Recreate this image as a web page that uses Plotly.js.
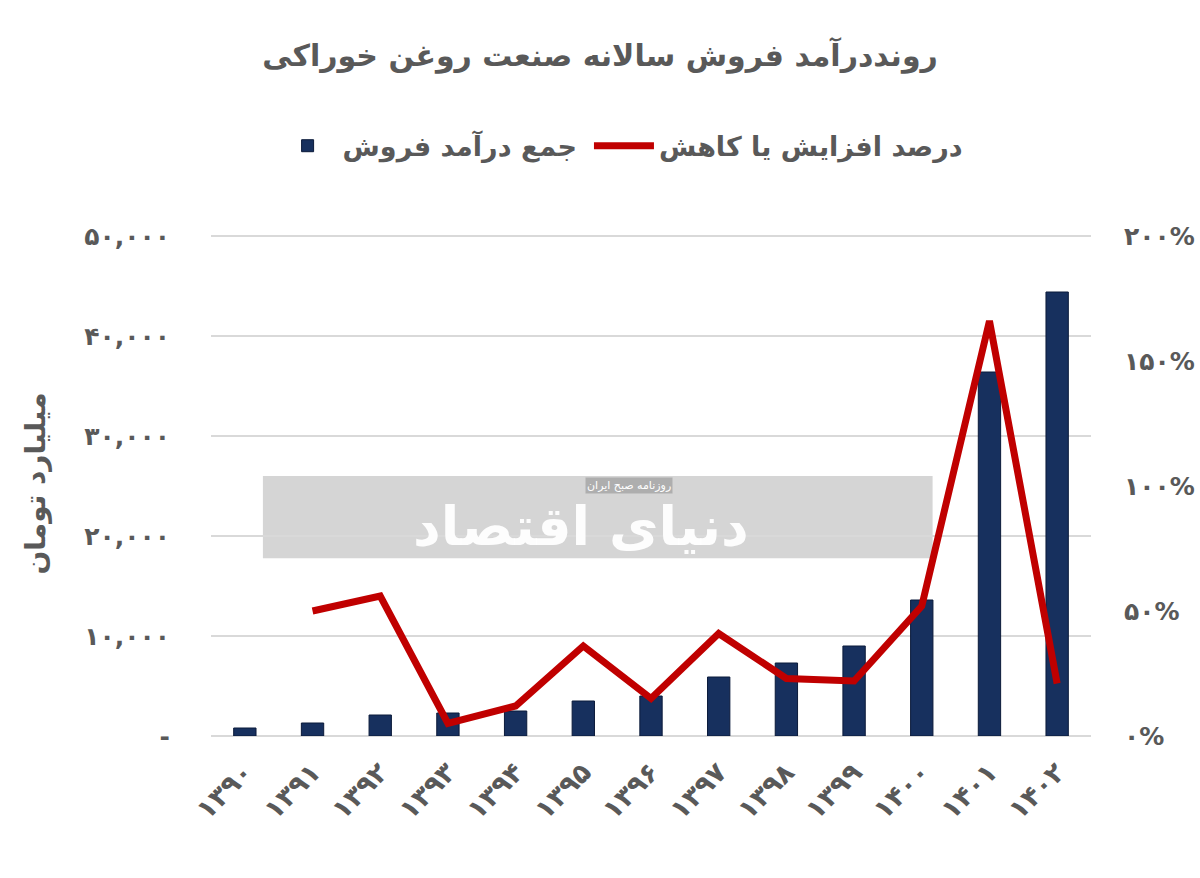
<!DOCTYPE html>
<html>
<head>
<meta charset="utf-8">
<script src="https://cdn.plot.ly/plotly-3.0.1.min.js"></script>
<style>html,body{margin:0;padding:0;background:#fff;}#chart{width:1200px;height:878px;}</style>
</head>
<body>
<div id="chart"></div>
<script>
// Data
const years = ["۱۳۹۰","۱۳۹۱","۱۳۹۲","۱۳۹۳","۱۳۹۴","۱۳۹۵","۱۳۹۶","۱۳۹۷","۱۳۹۸","۱۳۹۹","۱۴۰۰","۱۴۰۱","۱۴۰۲"];
const revenue = [800, 1300, 2100, 2300, 2500, 3500, 4000, 5900, 7300, 9000, 13600, 36400, 44400];
const growthPct = [null, 50, 56, 5, 12, 36, 15, 41, 23, 22, 52, 166, 21];
const leftTickVals = [0, 10000, 20000, 30000, 40000, 50000];
const leftTickText = ["-", "۱۰,۰۰۰", "۲۰,۰۰۰", "۳۰,۰۰۰", "۴۰,۰۰۰", "۵۰,۰۰۰"];
const rightTickVals = [0, 50, 100, 150, 200];
const rightTickText = ["۰%", "۵۰%", "۱۰۰%", "۱۵۰%", "۲۰۰%"];
const barName = "جمع درآمد فروش";
const lineName = "درصد افزایش یا کاهش";
const titleText = "رونددرآمد فروش سالانه صنعت روغن خوراکی";
const yTitleText = "میلیارد تومان";

const FONT = "DejaVu Sans, sans-serif";
const GRAY = "#595959";
const legendFont = {family: FONT, size: 27, color: GRAY, weight: "bold"};

const traces = [
  {
    type: "bar", x: years, y: revenue, name: barName,
    marker: {color: "#17305e", line: {color: "#0b1a3a", width: 1}},
    width: 0.33, yaxis: "y", legend: "legend"
  },
  {
    type: "scatter", mode: "lines", x: years, y: growthPct, name: lineName,
    line: {color: "#c00000", width: 7}, yaxis: "y2", connectgaps: false, legend: "legend2"
  }
];

const layout = {
  width: 1200, height: 878,
  margin: {l: 211, r: 109, t: 231, b: 142},
  paper_bgcolor: "#fff", plot_bgcolor: "#fff",
  font: {family: FONT, color: GRAY},
  title: {text: titleText, x: 0.5, xanchor: "center", y: 0.937, yanchor: "middle",
          font: {family: FONT, size: 30, color: GRAY, weight: "bold"}},
  showlegend: true,
  legend: {orientation: "h", x: 0.07, xanchor: "left", y: 1.168, yanchor: "middle",
           font: legendFont, itemwidth: 60, bgcolor: "rgba(0,0,0,0)"},
  legend2: {orientation: "h", x: 0.4295, xanchor: "left", y: 1.168, yanchor: "middle",
           font: legendFont, itemwidth: 60, bgcolor: "rgba(0,0,0,0)"},
  xaxis: {type: "category", tickangle: -45, tickfont: {family: FONT, size: 27, color: GRAY, weight: "bold"},
          showgrid: false, showline: false, ticks: "", ticklabelstandoff: 14},
  yaxis: {range: [0, 50500], tickvals: leftTickVals, ticktext: leftTickText,
          tickfont: {family: FONT, size: 25, color: GRAY, weight: "bold"},
          showgrid: true, gridcolor: "#d9d9d9", gridwidth: 2, zeroline: true, zerolinecolor: "#d9d9d9", zerolinewidth: 2,
          showline: false, ticks: "", ticklabelstandoff: 40,
          title: {text: yTitleText, font: {family: FONT, size: 28, color: GRAY, weight: "bold"}, standoff: 30}},
  yaxis2: {range: [0, 202], overlaying: "y", side: "right", tickvals: rightTickVals, ticktext: rightTickText,
           tickfont: {family: FONT, size: 25, color: GRAY, weight: "bold"}, showgrid: false, zeroline: false, showline: false,
           ticks: "", ticklabelstandoff: 32},
  shapes: [
    {type: "rect", xref: "paper", yref: "paper", x0: 0.059, x1: 0.82, y0: 0.352, y1: 0.515,
     fillcolor: "rgba(190,190,190,0.65)", line: {width: 0}, layer: "below"}
  ],
  annotations: [
    {xref: "paper", yref: "paper", x: 0.42, y: 0.415, text: "دنیای اقتصاد", showarrow: false,
     font: {family: FONT, size: 54, color: "rgba(255,255,255,0.95)", weight: "bold"}},
    {xref: "paper", yref: "paper", x: 0.475, y: 0.497, text: "روزنامه صبح ایران", showarrow: false,
     font: {family: FONT, size: 11, color: "#fff"}, bgcolor: "rgba(170,170,170,0.9)"}
  ]
};

Plotly.newPlot("chart", traces, layout, {displayModeBar: false, responsive: false});
</script>
</body>
</html>
